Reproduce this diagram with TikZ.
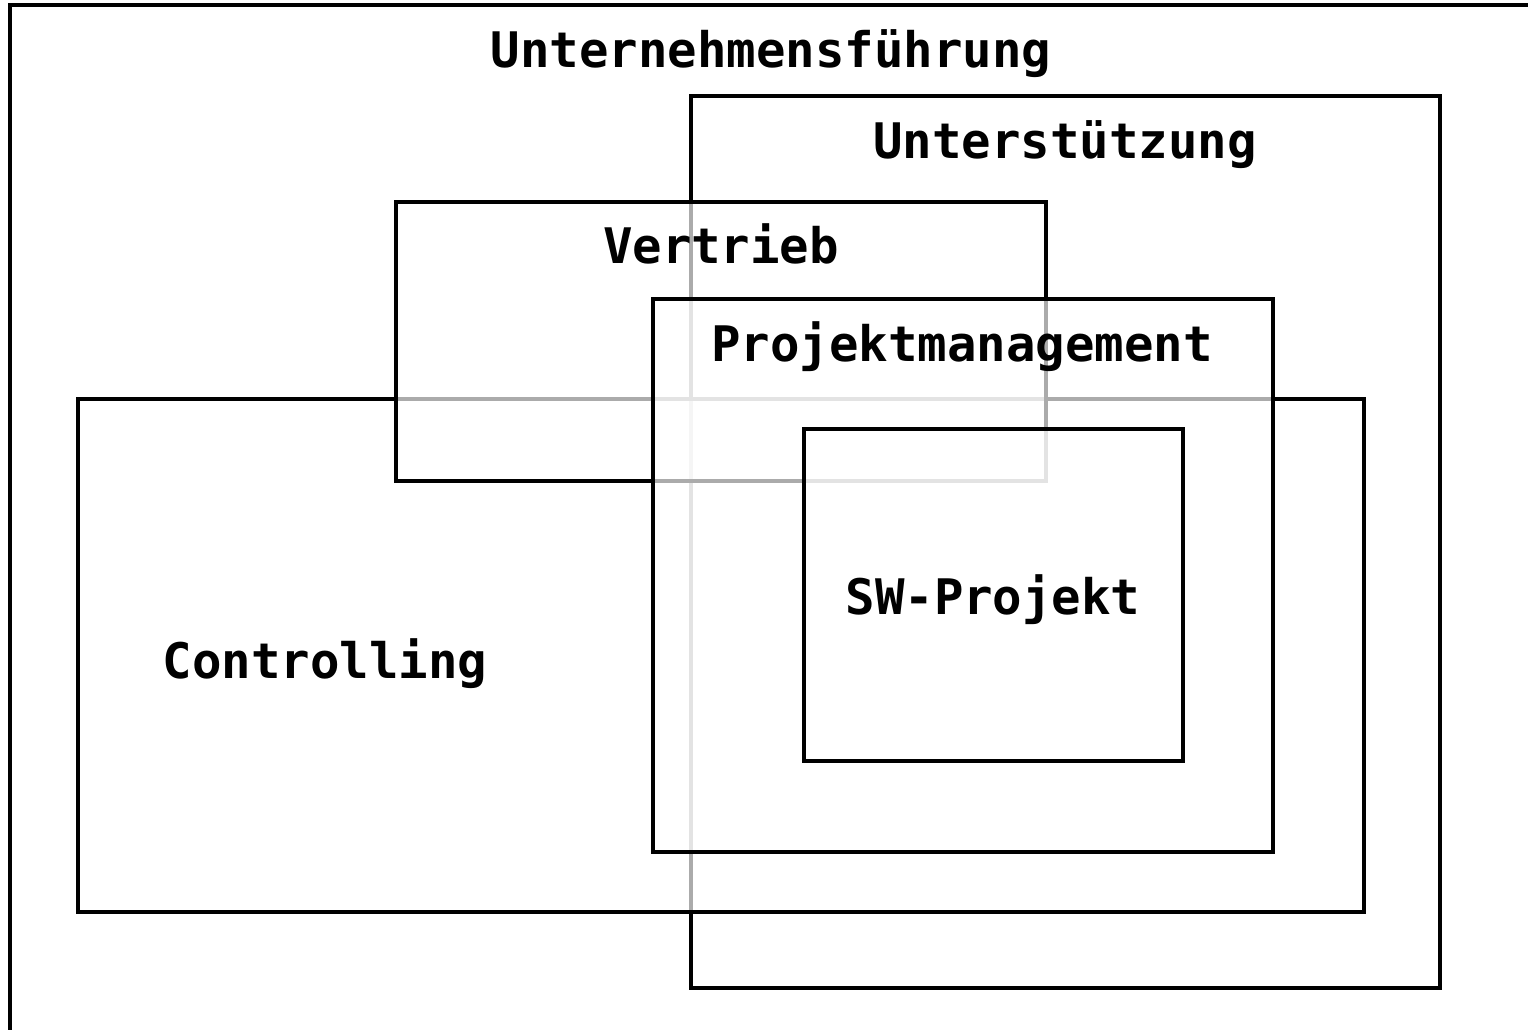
\documentclass[tikz,border=0pt]{standalone}
\usepackage{fontspec}
\newfontfamily\labfont{DejaVu Sans Mono}
\begin{document}
\begin{tikzpicture}[x=1pt,y=-1pt,
  area/.style={draw=black, line width=3.5pt, fill=white, fill opacity=0.67, draw opacity=1, text opacity=1, inner sep=0pt, outer sep=0pt, rectangle},
  lab/.style={font=\labfont\bfseries\fontsize{49}{55}\selectfont, anchor=base, inner sep=0pt}]
\useasboundingbox (0,0) rectangle (1528,1029);
\clip (0,0) rectangle (1528,1029);
\fill[white] (0,0) rectangle (1528,1029);
\node[area, line width=4pt, minimum width=1550pt, minimum height=1055pt] (uf) at (785,532.5) {};
\node[area, minimum width=749pt, minimum height=892pt] (us) at (1065.5,542) {};
\node[area, minimum width=1286pt, minimum height=513pt] (co) at (721,655.5) {};
\node[area, minimum width=650pt, minimum height=279pt] (ve) at (721,341.5) {};
\node[area, minimum width=620pt, minimum height=553pt] (pm) at (963,575.5) {};
\node[area, minimum width=379pt, minimum height=332pt] (sw) at (993.5,595) {};
\node[lab] (tuf) at (771,67) {Unternehmensführung};
\node[lab] (tus) at (1065,158) {Unterstützung};
\node[lab] (tve) at (721,263) {Vertrieb};
\node[lab] (tpm) at (962,361) {Projektmanagement};
\node[lab] (tsw) at (993,614) {SW-Projekt};
\node[lab] (tco) at (325,678) {Controlling};
\end{tikzpicture}
\end{document}
